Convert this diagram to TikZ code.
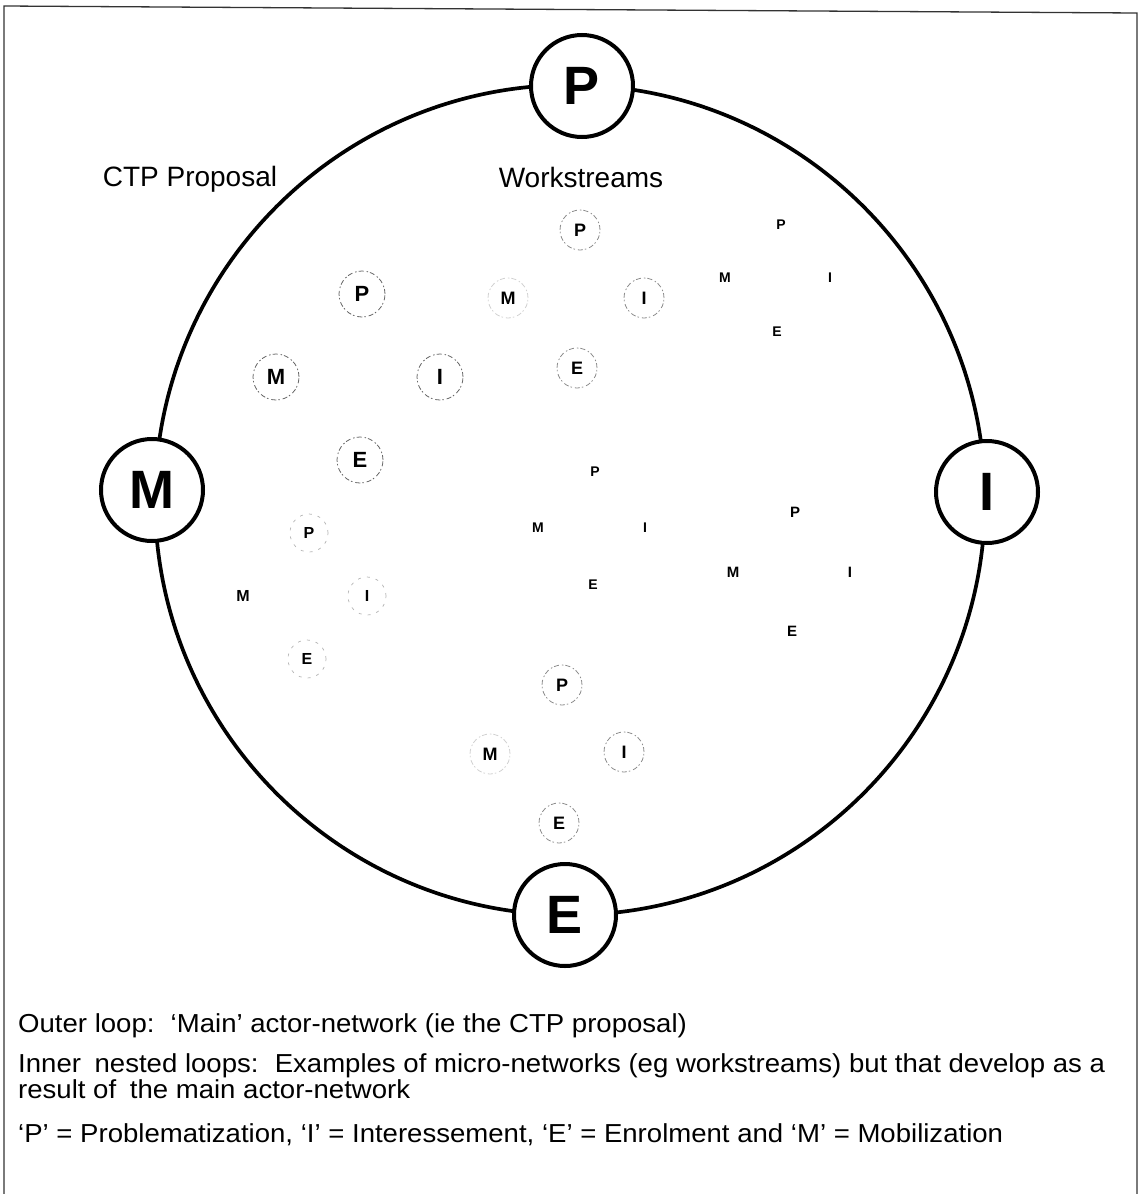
\documentclass[tikz,border=0pt]{standalone}
\usepackage{fontspec}
\setmainfont{Liberation Sans}
\newfontfamily\keyfont[FakeStretch=1.06]{Liberation Sans}
\begin{document}
\begin{tikzpicture}[x=1pt,y=-1pt,
  stage/.style={circle, draw, line width=4pt, fill=white, minimum size=102pt,
    inner sep=0pt, font=\fontsize{54}{54}\selectfont\bfseries},
  letter/.style={inner sep=0pt, font=\fontsize{#1}{#1}\selectfont\bfseries},
  ring/.style={circle, minimum size=#1, draw, line width=0.8pt,
    dash pattern=on 5pt off 2pt on 1.5pt off 3pt},
  ringA/.style={ring=#1, draw=black!60},
  ringB/.style={ring=#1, draw=black!45},
  ringC/.style={ring=#1, draw=black!18},
  ringD/.style={circle, minimum size=#1, draw=black!30, line width=0.7pt,
    dash pattern=on 3pt off 6pt},
  label/.style={font=\fontsize{28}{28}\selectfont, anchor=base},
  note/.style={font=\keyfont\fontsize{26}{26}\selectfont, anchor=base west, inner sep=0pt},
  frame/.style={line width=1.3pt, draw=black!80}
]
\useasboundingbox (0,0) rectangle (1140,1194);

% page frame (left, top, right)
\coordinate (fbl) at (4,1194);
\coordinate (ftl) at (4,6);
\coordinate (ftr) at (1137,13);
\coordinate (fbr) at (1137,1194);
\draw[frame] (fbl) -- (ftl) -- (ftr) -- (fbr);

% outer loop: the main actor-network
\coordinate (hub) at (570,500);
\draw[line width=3.7pt] (hub) circle[radius=415];
\node[stage] (P) at (582,86) {P};
\node[stage] (I) at (987,492) {I};
\node[stage] (E) at (565,915) {E};
\node[stage] (M) at (152,490) {M};

\node[label] (ctp) at (190,186) {CTP Proposal};
\node[label] (ws) at (581,187) {Workstreams};

% inner nested loops: micro-networks
% group 1
\node[letter=22, ringA=46pt] (aP) at (362,294) {P};
\node[letter=22, ringA=46pt] (aM) at (276,377) {M};
\node[letter=22, ringA=46pt] (aI) at (440,377) {I};
\node[letter=22, ringA=46pt] (aE) at (360,460) {E};
% group 2
\node[letter=18, ringB=40pt] (bP) at (580,230) {P};
\node[letter=18, ringC=40pt] (bM) at (508,298) {M};
\node[letter=18, ringB=40pt] (bI) at (644,298) {I};
\node[letter=18, ringB=40pt] (bE) at (577,368) {E};
% group 3
\node[letter=14] (cP) at (781,225) {P};
\node[letter=14] (cM) at (725,278) {M};
\node[letter=14] (cI) at (830,278) {I};
\node[letter=14] (cE) at (777,332) {E};
% group 4
\node[letter=16, ringD=38pt] (dP) at (309,533) {P};
\node[letter=16] (dM) at (243,596) {M};
\node[letter=16, ringD=38pt] (dI) at (367,596) {I};
\node[letter=16, ringD=38pt] (dE) at (307,659) {E};
% group 5
\node[letter=14] (eP) at (595,472) {P};
\node[letter=14] (eM) at (538,528) {M};
\node[letter=14] (eI) at (645,528) {I};
\node[letter=14] (eE) at (593,585) {E};
% group 6
\node[letter=15] (fP) at (795,512) {P};
\node[letter=15] (fM) at (733,572) {M};
\node[letter=15] (fI) at (850,572) {I};
\node[letter=15] (fE) at (792,631) {E};
% group 7
\node[letter=18, ringB=40pt] (gP) at (562,685) {P};
\node[letter=18, ringC=40pt] (gM) at (490,754) {M};
\node[letter=18, ringB=40pt] (gI) at (624,752) {I};
\node[letter=18, ringB=40pt] (gE) at (559,823) {E};

% key
\node[note] (n1) at (18,1032) {Outer loop:\hspace{6pt} ‘Main’ actor-network (ie the CTP proposal)};
\node[note] (n2) at (18,1072) {Inner\hspace{6pt} nested loops:\hspace{6pt} Examples of micro-networks (eg workstreams) but that develop as a};
\node[note] (n3) at (18,1098) {result of\hspace{6pt} the main actor-network};
\node[note] (n4) at (18,1142) {‘P’ = Problematization, ‘I’ = Interessement, ‘E’ = Enrolment and ‘M’ = Mobilization};
\end{tikzpicture}
\end{document}
